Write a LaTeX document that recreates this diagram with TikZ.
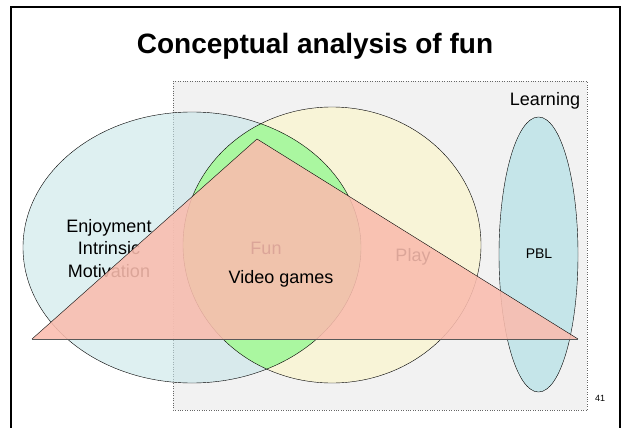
\documentclass[tikz,border=0pt]{standalone}
\usepackage{fontspec}
\setmainfont{Liberation Sans}

\definecolor{learngray}{RGB}{242,242,242}
\definecolor{enjoyblue}{RGB}{200,230,232}
\definecolor{playyellow}{RGB}{248,244,215}
\definecolor{fungreen}{RGB}{170,247,160}
\definecolor{pblblue}{RGB}{197,229,233}
\definecolor{gamesalmon}{RGB}{250,188,174}

\begin{document}
\begin{tikzpicture}[x=1pt, y=-1pt,
    lbl/.style={anchor=base, font=\fontsize{18}{22.5}\selectfont},
    small/.style={anchor=base, font=\fontsize{#1}{#1}\selectfont}]
    \useasboundingbox (0,0) rectangle (626,428);
    % slide frame
    \draw[line width=2pt] (10.5,429) -- (10.5,7.5) -- (620,7.5) -- (620,429);
    \node[anchor=base, font=\fontsize{28}{34}\selectfont\bfseries] (title) at (315,53) {Conceptual analysis of fun};
    % learning box
    \draw[dotted, fill=learngray, draw=black!60] (173,81) rectangle (587,410);
    \node[lbl] (learning) at (545,105) {Learning};
    % enjoyment and play
    \fill[enjoyblue, fill opacity=0.6] (192,247.5) ellipse (169 and 135.5);
    \fill[playyellow] (332,245) ellipse (149 and 138);
    \begin{scope}
      \clip (192,247.5) ellipse (169 and 135.5);
      \fill[fungreen] (332,245) ellipse (149 and 138);
    \end{scope}
    \draw (192,247.5) ellipse (169 and 135.5);
    \draw (332,245) ellipse (149 and 138);
    \draw[fill=pblblue] (538.5,254.5) ellipse (39.5 and 137.5);
    \node[lbl, align=center] (enjoyment) at (109,277) {Enjoyment\\Intrinsic\\Motivation};
    \node[lbl] (fun) at (266,254) {Fun};
    \node[lbl] (play) at (413,261) {Play};
    \node[small=14] (pbl) at (539,258) {PBL};
    % video games
    \fill[gamesalmon, fill opacity=0.88] (32,339) -- (257,139) -- (578,339) -- cycle;
    \draw (32,339) -- (257,139) -- (578,339);
    \draw[black!65] (32,339) -- (578,339);
    \node[lbl] (games) at (281,283) {Video games};
    \node[small=9] (slideno) at (600,401) {41};
\end{tikzpicture}
\end{document}
